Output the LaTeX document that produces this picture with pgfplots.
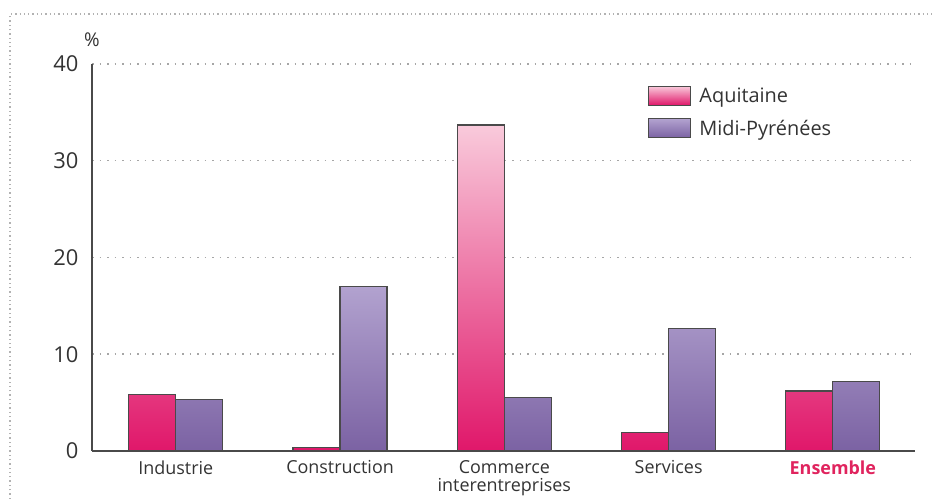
\documentclass[border=0pt]{standalone}
\usepackage{pgfplots}
\pgfplotsset{compat=1.18}
\usepackage{fontspec}
\setmainfont{Open Sans}
\definecolor{aqtop}{HTML}{F9CADB}
\definecolor{aqbot}{HTML}{E0176A}
\definecolor{mptop}{HTML}{B2A2CF}
\definecolor{mpbot}{HTML}{7B62A3}
\definecolor{ens}{HTML}{E0245E}
\definecolor{edge}{HTML}{4A4A4A}
\definecolor{txt}{HTML}{333333}
\pgfplotsset{boxlegend/.style={legend image code/.code={\draw[##1] (0bp,-9bp) rectangle (42bp,10bp);}}}
\begin{document}
\begin{tikzpicture}[x=1bp,y=1bp]
\path[use as bounding box] (0,0) rectangle (932,499);
\draw[gray!60, line width=1.3bp, dash pattern=on 1.3bp off 3bp] (10,0) -- (10,485) -- (932,485);
\begin{axis}[
  at={(92bp,48bp)}, anchor=south west,
  scale only axis, width=823bp, height=387bp,
  xmin=-0.51, xmax=4.5, ymin=0, ymax=40,
  ybar=0pt, bar width=47bp,
  axis lines*=left,
  axis line style={edge, line width=1.3bp},
  major tick length=0pt,
  ytick={0,10,20,30,40},
  ymajorgrids,
  grid style={gray!70, line width=1.5bp, dash pattern=on 1.5bp off 6bp},
  xtick=data,
  xticklabels={Industrie, Construction, {Commerce\\interentreprises}, Services, {\textcolor{ens}{\bfseries Ensemble}}},
  xticklabel style={font=\fontsize{18}{18}\selectfont, text=txt, align=center, yshift=-6bp},
  yticklabel style={font=\fontsize{22}{24}\selectfont, text=txt, xshift=-10bp},
  /pgf/number format/assume math mode=true,
  legend style={at={(0.672,0.95)}, anchor=north west, draw=none, fill=none,
    font=\fontsize{20}{22}\selectfont, text=txt, row sep=12bp,
    /tikz/every odd column/.append style={column sep=6bp}},
  legend cell align=left,
  boxlegend,
  clip=false,
]
\addplot[draw=edge, line width=1.2bp, top color=aqtop, bottom color=aqbot]
  coordinates {(0,5.8) (1,0.4) (2,33.7) (3,1.9) (4,6.2)};
\addplot[draw=edge, line width=1.2bp, top color=mptop, bottom color=mpbot]
  coordinates {(0,5.3) (1,17.0) (2,5.5) (3,12.7) (4,7.2)};
\legend{Aquitaine, Midi-Pyrénées}
\node[text=txt, font=\fontsize{19}{21}\selectfont] at ([yshift=24bp]rel axis cs:0,1) {\%};
\end{axis}
\end{tikzpicture}
\end{document}
